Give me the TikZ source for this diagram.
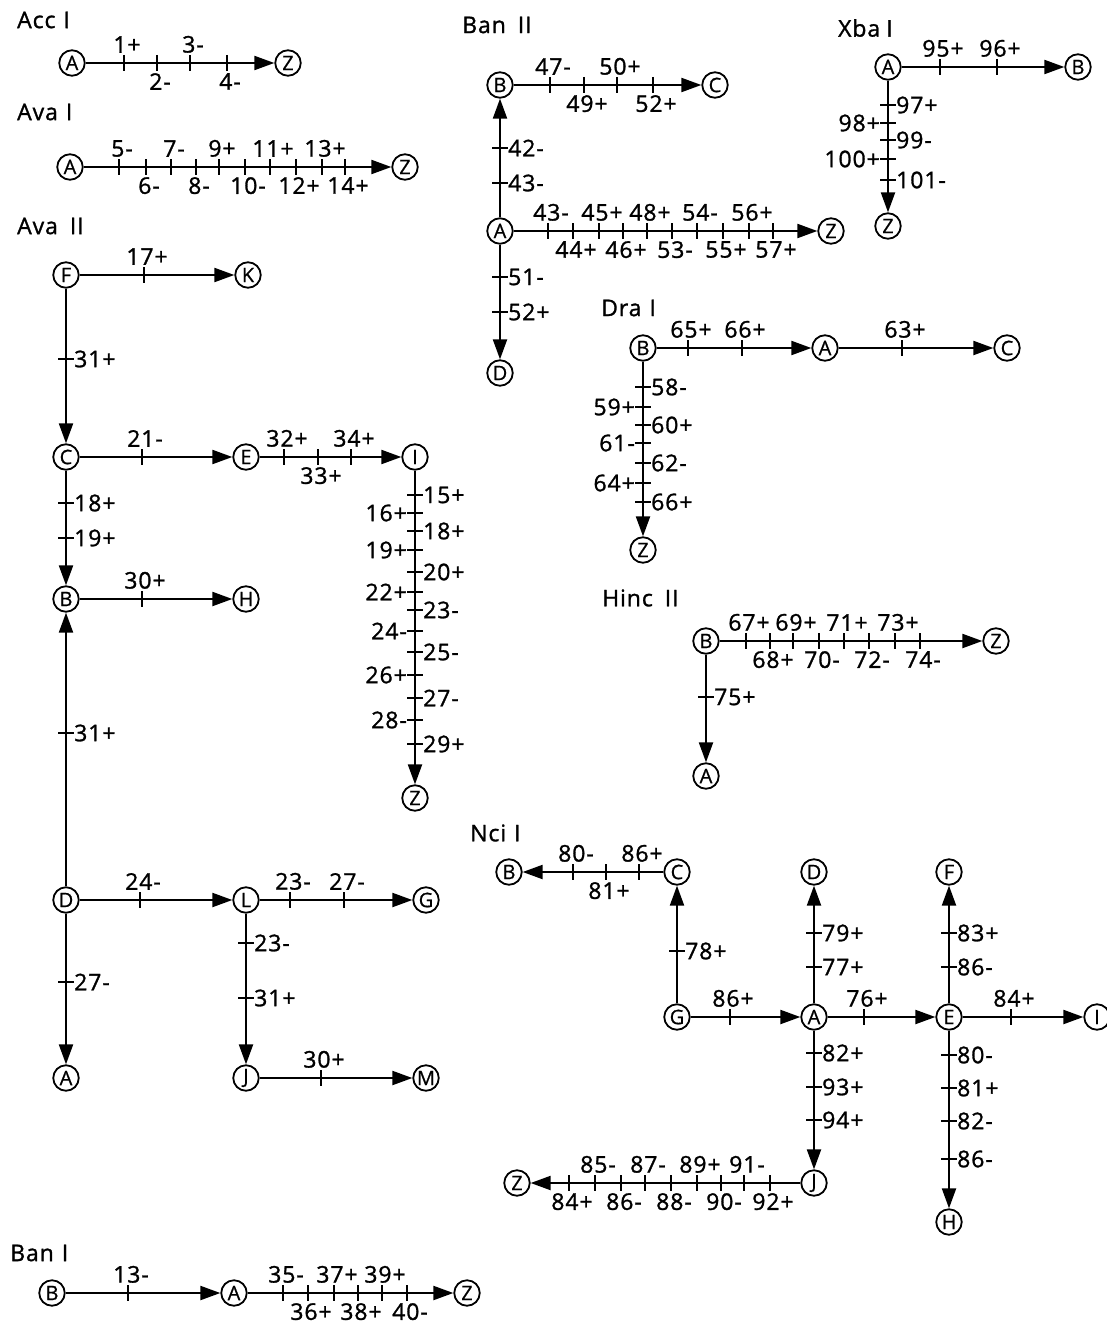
\documentclass[tikz,border=0pt]{standalone}
\usepackage{fontspec}
\usetikzlibrary{arrows.meta}
\newfontfamily\labfam[LetterSpace=4,FakeBold=1.2]{Open Sans}
\newfontfamily\nodefam[FakeBold=0.8]{Open Sans}
\newcommand\lfont{\labfam\fontsize{23}{26}\selectfont}
\newcommand\nfont{\nodefam\fontsize{20}{23}\selectfont}
\newcounter{lbc}
\newcommand\lbnode[3]{\stepcounter{lbc}\edef\lbname{lb\arabic{lbc}}\node[lb,#1] (\lbname) at #2 {#3};}
\newcommand\hu[3]{\draw[tk] (#1,#2-8) -- (#1,#2+8); \lbnode{anchor=south}{(#1+3,#2-9)}{#3}}
\newcommand\hd[3]{\draw[tk] (#1,#2-8) -- (#1,#2+8); \lbnode{anchor=north}{(#1+3,#2+9)}{#3}}
\newcommand\vr[3]{\draw[tk] (#1-8,#2) -- (#1+8,#2); \lbnode{anchor=west}{(#1+7,#2)}{#3}}
\newcommand\vl[3]{\draw[tk] (#1-8,#2) -- (#1+8,#2); \lbnode{anchor=east}{(#1-7,#2)}{#3}}
\tikzset{
 nd/.style={circle,draw,line width=1.8pt,minimum size=25.5pt,inner sep=0pt,font=\nfont},
 ar/.style={line width=2.1pt,-{Triangle[length=20pt,width=14pt]}},
 tk/.style={line width=2.1pt},
 lb/.style={font=\lfont,inner sep=1pt},
 ttl/.style={font=\lfont,anchor=west,inner sep=0pt},
}
\begin{document}
\begin{tikzpicture}[x=1pt,y=-1pt]
\useasboundingbox (0,0) rectangle (1106,1327);
% ---------------- Acc I
\node[ttl] (tAcc) at (17,20) {Acc\hspace{8pt}I};
\node[nd] (acA) at (72,63) {A};
\node[nd] (acZ) at (288,63) {Z};
\draw[ar] (acA) -- (acZ);
\hu{124}{63}{1+} \hd{157}{63}{2-} \hu{190}{63}{3-} \hd{227}{63}{4-}
% ---------------- Ava I
\node[ttl] (tAvaI) at (17,112) {Ava\hspace{8pt}I};
\node[nd] (a1A) at (70,167) {A};
\node[nd] (a1Z) at (405,167) {Z};
\draw[ar] (a1A) -- (a1Z);
\hu{119}{167}{5-} \hd{146}{167}{6-} \hu{171}{167}{7-} \hd{196}{167}{8-}
\hu{219}{167}{9+} \hd{245}{167}{10-} \hu{270}{167}{11+} \hd{296}{167}{12+}
\hu{322}{167}{13+} \hd{345}{167}{14+}
% ---------------- Ava II
\node[ttl] (tAvaII) at (17,226) {Ava\hspace{12pt}II};
\node[nd] (a2F) at (66,275) {F};
\node[nd] (a2K) at (248,275) {K};
\node[nd] (a2C) at (66,457) {C};
\node[nd] (a2E) at (246,457) {E};
\node[nd] (a2I) at (415,457) {I};
\node[nd] (a2B) at (66,599) {B};
\node[nd] (a2H) at (246,599) {H};
\node[nd] (a2Z) at (415,798) {Z};
\node[nd] (a2D) at (66,900) {D};
\node[nd] (a2L) at (246,900) {L};
\node[nd] (a2G) at (426,900) {G};
\node[nd] (a2A) at (66,1078) {A};
\node[nd] (a2J) at (246,1078) {J};
\node[nd] (a2M) at (426,1078) {M};
\draw[ar] (a2F) -- (a2K);
\draw[ar] (a2F) -- (a2C);
\draw[ar] (a2C) -- (a2E);
\draw[ar] (a2E) -- (a2I);
\draw[ar] (a2C) -- (a2B);
\draw[ar] (a2B) -- (a2H);
\draw[ar] (a2I) -- (a2Z);
\draw[ar] (a2D) -- (a2B);
\draw[ar] (a2D) -- (a2L);
\draw[ar] (a2L) -- (a2G);
\draw[ar] (a2D) -- (a2A);
\draw[ar] (a2L) -- (a2J);
\draw[ar] (a2J) -- (a2M);
\hu{144}{275}{17+}
\vr{66}{359}{31+}
\hu{142}{457}{21-}
\hu{284}{457}{32+} \hd{318}{457}{33+} \hu{351}{457}{34+}
\vr{66}{503}{18+} \vr{66}{538}{19+}
\hu{142}{599}{30+}
\vr{415}{495}{15+} \vl{415}{513}{16+} \vr{415}{531}{18+} \vl{415}{550}{19+}
\vr{415}{572}{20+} \vl{415}{592}{22+} \vr{415}{610}{23-} \vl{415}{631}{24-}
\vr{415}{652}{25-} \vl{415}{675}{26+} \vr{415}{698}{27-} \vl{415}{720}{28-}
\vr{415}{744}{29+}
\vr{66}{733}{31+}
\hu{140}{900}{24-}
\hu{290}{900}{23-} \hu{344}{900}{27-}
\vr{66}{982}{27-}
\vr{246}{943}{23-} \vr{246}{998}{31+}
\hu{321}{1078}{30+}
% ---------------- Ban I
\node[ttl] (tBanI) at (10,1253) {Ban\hspace{8pt}I};
\node[nd] (b1B) at (52,1293) {B};
\node[nd] (b1A) at (234,1293) {A};
\node[nd] (b1Z) at (467,1293) {Z};
\draw[ar] (b1B) -- (b1A);
\draw[ar] (b1A) -- (b1Z);
\hu{128}{1293}{13-}
\hu{283}{1293}{35-} \hd{308}{1293}{36+} \hu{334}{1293}{37+}
\hd{358}{1293}{38+} \hu{382}{1293}{39+} \hd{407}{1293}{40-}
% ---------------- Ban II
\node[ttl] (tBanII) at (462,25) {Ban\hspace{12pt}II};
\node[nd] (b2B) at (500,85) {B};
\node[nd] (b2C) at (715,85) {C};
\node[nd] (b2A) at (500,231) {A};
\node[nd] (b2Z) at (831,231) {Z};
\node[nd] (b2D) at (500,373) {D};
\draw[ar] (b2B) -- (b2C);
\draw[ar] (b2A) -- (b2B);
\draw[ar] (b2A) -- (b2Z);
\draw[ar] (b2A) -- (b2D);
\hu{550}{85}{47-} \hd{584}{85}{49+} \hu{617}{85}{50+} \hd{653}{85}{52+}
\vr{500}{148}{42-} \vr{500}{183}{43-}
\hu{548}{231}{43-} \hd{573}{231}{44+} \hu{599}{231}{45+} \hd{623}{231}{46+}
\hu{647}{231}{48+} \hd{672}{231}{53-} \hu{697}{231}{54-} \hd{723}{231}{55+}
\hu{749}{231}{56+} \hd{773}{231}{57+}
\vr{500}{277}{51-} \vr{500}{312}{52+}
% ---------------- Xba I
\node[ttl] (tXba) at (838,28) {Xba\hspace{6pt}I};
\node[nd] (xA) at (888,67) {A};
\node[nd] (xB) at (1078,67) {B};
\node[nd] (xZ) at (888,226) {Z};
\draw[ar] (xA) -- (xB);
\draw[ar] (xA) -- (xZ);
\hu{940}{67}{95+} \hu{997}{67}{96+}
\vr{888}{105}{97+} \vl{888}{123}{98+} \vr{888}{140}{99-} \vl{888}{159}{100+} \vr{888}{180}{101-}
% ---------------- Dra I
\node[ttl] (tDra) at (601,308) {Dra\hspace{8pt}I};
\node[nd] (dB) at (643,348) {B};
\node[nd] (dA) at (825,348) {A};
\node[nd] (dC) at (1007,348) {C};
\node[nd] (dZ) at (643,550) {Z};
\draw[ar] (dB) -- (dA);
\draw[ar] (dA) -- (dC);
\draw[ar] (dB) -- (dZ);
\hu{688}{348}{65+} \hu{742}{348}{66+}
\hu{902}{348}{63+}
\vr{643}{387}{58-} \vl{643}{407}{59+} \vr{643}{425}{60+} \vl{643}{443}{61-}
\vr{643}{463}{62-} \vl{643}{483}{64+} \vr{643}{502}{66+}
% ---------------- Hinc II
\node[ttl] (tHinc) at (602,598) {Hinc\hspace{12pt}II};
\node[nd] (hB) at (706,641) {B};
\node[nd] (hZ) at (996,641) {Z};
\node[nd] (hA) at (706,776) {A};
\draw[ar] (hB) -- (hZ);
\draw[ar] (hB) -- (hA);
\hu{746}{641}{67+} \hd{770}{641}{68+} \hu{793}{641}{69+} \hd{819}{641}{70-}
\hu{844}{641}{71+} \hd{869}{641}{72-} \hu{895}{641}{73+} \hd{920}{641}{74-}
\vr{706}{697}{75+}
% ---------------- Nci I
\node[ttl] (tNci) at (470,833) {Nci\hspace{8pt}I};
\node[nd] (nB) at (509,872) {B};
\node[nd] (nC) at (677,872) {C};
\node[nd] (nD) at (814,872) {D};
\node[nd] (nF) at (949,872) {F};
\node[nd] (nG) at (677,1017) {G};
\node[nd] (nA) at (814,1017) {A};
\node[nd] (nE) at (949,1017) {E};
\node[nd] (nI) at (1097,1017) {I};
\node[nd] (nJ) at (814,1183) {J};
\node[nd] (nZ) at (517,1183) {Z};
\node[nd] (nH) at (949,1222) {H};
\draw[ar] (nC) -- (nB);
\draw[ar] (nG) -- (nC);
\draw[ar] (nG) -- (nA);
\draw[ar] (nA) -- (nD);
\draw[ar] (nA) -- (nE);
\draw[ar] (nE) -- (nF);
\draw[ar] (nE) -- (nI);
\draw[ar] (nA) -- (nJ);
\draw[ar] (nJ) -- (nZ);
\draw[ar] (nE) -- (nH);
\hu{573}{872}{80-} \hd{606}{872}{81+} \hu{639}{872}{86+}
\vr{677}{951}{78+}
\hu{730}{1017}{86+}
\vr{814}{933}{79+} \vr{814}{967}{77+}
\hu{864}{1017}{76+}
\vr{949}{933}{83+} \vr{949}{967}{86-}
\hu{1011}{1017}{84+}
\vr{814}{1053}{82+} \vr{814}{1087}{93+} \vr{814}{1120}{94+}
\hd{569}{1183}{84+} \hu{595}{1183}{85-} \hd{621}{1183}{86-} \hu{645}{1183}{87-}
\hd{671}{1183}{88-} \hu{697}{1183}{89+} \hd{721}{1183}{90-} \hu{744}{1183}{91-}
\hd{770}{1183}{92+}
\vr{949}{1055}{80-} \vr{949}{1088}{81+} \vr{949}{1121}{82-} \vr{949}{1159}{86-}
\end{tikzpicture}
\end{document}
